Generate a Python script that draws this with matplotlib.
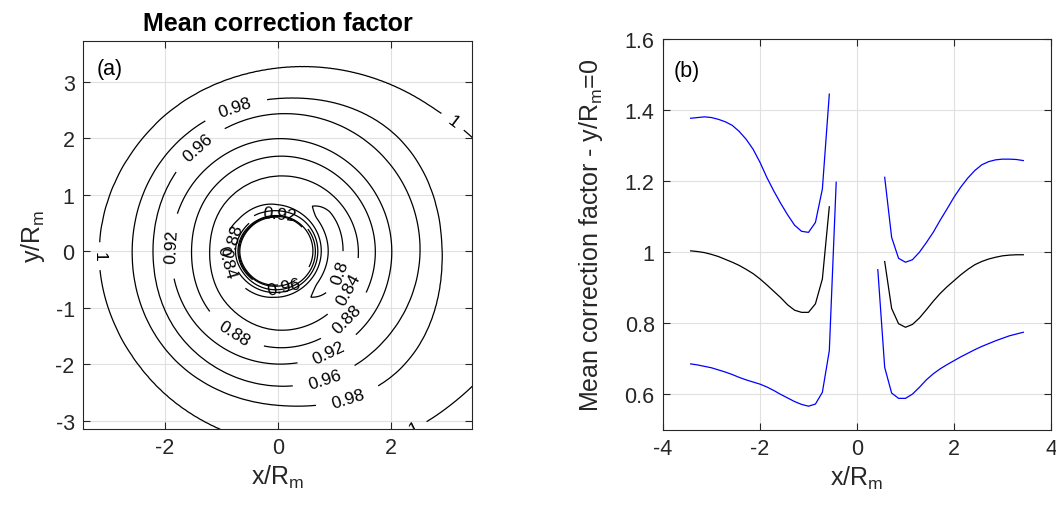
import numpy as np
import matplotlib
matplotlib.use("Agg")
import matplotlib.pyplot as plt

plt.rcParams['font.family'] = ['Liberation Sans', 'DejaVu Sans']
plt.rcParams['mathtext.fontset'] = 'custom'
plt.rcParams['mathtext.rm'] = 'Liberation Sans'
plt.rcParams['mathtext.it'] = 'Liberation Sans:italic'
plt.rcParams['axes.unicode_minus'] = False

# ---------------- panel (a) data: field ----------------
angles_deg = [0, 45, 90, 135, 180, 225, 270, 315]
# inner radial knots (near the hole) and the field values there, per angle
r_inner = [0.60, 0.66, 0.73, 0.82, 0.90, 1.00, 1.15]
v_inner = [
    [0.975, 0.920, 0.855, 0.815, 0.797, 0.789, 0.800],   # 0 deg
    [0.980, 0.915, 0.860, 0.818, 0.801, 0.796, 0.802],   # 45
    [1.000, 0.915, 0.870, 0.840, 0.828, 0.825, 0.830],   # 90
    [1.060, 0.970, 0.900, 0.855, 0.838, 0.830, 0.832],   # 135
    [1.120, 1.020, 0.935, 0.875, 0.848, 0.833, 0.834],   # 180
    [1.060, 0.980, 0.905, 0.855, 0.835, 0.826, 0.828],   # 225
    [1.000, 0.940, 0.880, 0.838, 0.823, 0.818, 0.822],   # 270
    [0.975, 0.925, 0.860, 0.815, 0.801, 0.796, 0.802],   # 315
]
# radius at which the field reaches each outer level, per angle
outer_levels = [0.84, 0.88, 0.92, 0.96, 0.98, 1.00]
r_outer = [
    [1.42, 1.72, 2.01, 2.51, 2.90, 4.50],
    [1.38, 1.70, 2.00, 2.50, 2.92, 3.70],
    [1.33, 1.68, 1.99, 2.43, 2.70, 3.24],
    [1.27, 1.60, 1.93, 2.30, 2.62, 3.12],
    [1.21, 1.53, 1.89, 2.21, 2.58, 3.16],
    [1.30, 1.62, 1.95, 2.30, 2.65, 3.20],
    [1.40, 1.71, 2.00, 2.39, 2.73, 3.45],
    [1.42, 1.72, 2.02, 2.45, 3.00, 4.05],
]
far_r, far_v = 6.0, 1.02
contour_levels = [0.8, 0.84, 0.88, 0.92, 0.96, 0.98, 1.0]

# ---------------- panel (b) data: profiles along y/Rm = 0 ----------------
x_left = [-3.429, -3.286, -3.143, -3.000, -2.857, -2.714, -2.571, -2.429, -2.286, -2.143,
          -2.000, -1.857, -1.714, -1.571, -1.429, -1.286, -1.143, -1.000, -0.857, -0.714, -0.571]
mean_left = [1.004, 1.002, 0.999, 0.994, 0.988, 0.980, 0.972, 0.963, 0.952, 0.940,
             0.925, 0.908, 0.890, 0.872, 0.852, 0.837, 0.831, 0.831, 0.855, 0.925, 1.128]
upper_left = [1.377, 1.379, 1.381, 1.379, 1.374, 1.367, 1.357, 1.340, 1.318, 1.290,
              1.253, 1.210, 1.172, 1.137, 1.105, 1.076, 1.059, 1.056, 1.084, 1.178, 1.445]
x_left_low = [-3.429, -3.286, -3.143, -3.000, -2.857, -2.714, -2.571, -2.429, -2.286, -2.143,
              -2.000, -1.857, -1.714, -1.571, -1.429, -1.286, -1.143, -1.000, -0.857, -0.714,
              -0.571, -0.429]
lower_left = [0.686, 0.683, 0.679, 0.675, 0.669, 0.663, 0.656, 0.648, 0.641, 0.635,
              0.629, 0.621, 0.611, 0.600, 0.590, 0.580, 0.572, 0.567, 0.573, 0.606,
              0.723, 1.197]

x_right = [0.571, 0.714, 0.857, 1.000, 1.143, 1.286, 1.429, 1.571, 1.714, 1.857, 2.000,
           2.143, 2.286, 2.429, 2.571, 2.714, 2.857, 3.000, 3.143, 3.286, 3.429]
mean_right = [0.974, 0.842, 0.799, 0.789, 0.797, 0.815, 0.838, 0.862, 0.884, 0.903, 0.920,
              0.937, 0.952, 0.965, 0.974, 0.981, 0.986, 0.990, 0.992, 0.993, 0.993]
upper_right = [1.211, 1.042, 0.983, 0.972, 0.979, 1.000, 1.027, 1.056, 1.090, 1.122, 1.155,
               1.184, 1.209, 1.230, 1.246, 1.255, 1.260, 1.262, 1.262, 1.261, 1.258]
x_right_low = [0.429, 0.571, 0.714, 0.857, 1.000, 1.143, 1.286, 1.429, 1.571, 1.714, 1.857,
               2.000, 2.143, 2.286, 2.429, 2.571, 2.714, 2.857, 3.000, 3.143, 3.286, 3.429]
lower_right = [0.951, 0.676, 0.604, 0.589, 0.589, 0.601, 0.620, 0.641, 0.658, 0.672, 0.684,
               0.695, 0.706, 0.716, 0.726, 0.735, 0.743, 0.751, 0.758, 0.765, 0.770, 0.775]


def periodic_interp(table, ang_fine):
    """Periodic Catmull-Rom interpolation of per-angle rows onto a fine angle grid."""
    T = np.asarray(table, dtype=float)
    n = T.shape[0]
    step = 360.0 / n
    s = ang_fine / step
    i = np.floor(s).astype(int) % n
    u = (s - np.floor(s))[:, None]
    p0, p1, p2, p3 = T[(i - 1) % n], T[i], T[(i + 1) % n], T[(i + 2) % n]
    return 0.5 * (2 * p1 + (-p0 + p2) * u + (2 * p0 - 5 * p1 + 4 * p2 - p3) * u ** 2
                  + (-p0 + 3 * p1 - 3 * p2 + p3) * u ** 3)


ang_fine = np.linspace(0, 360, 721)
vin_f = periodic_interp(v_inner, ang_fine % 360)
rout_f = periodic_interp(r_outer, ang_fine % 360)
r_fine = np.linspace(r_inner[0], 5.4, 500)
Z = np.empty((len(ang_fine), len(r_fine)))
for k in range(len(ang_fine)):
    rk = np.concatenate([r_inner, rout_f[k], [far_r]])
    vk = np.concatenate([vin_f[k], outer_levels, [far_v]])
    Z[k] = np.interp(r_fine, rk, vk)
TH, RR = np.meshgrid(np.deg2rad(ang_fine), r_fine, indexing='ij')
X = RR * np.cos(TH)
Y = RR * np.sin(TH)

# ---------------- figure ----------------
W, H = 1056, 510
fig = plt.figure(figsize=(W / 100, H / 100), dpi=100)
ax1 = fig.add_axes([83 / W, (H - 430) / H, 389 / W, 388 / H])
ax2 = fig.add_axes([663 / W, (H - 431) / H, 388 / W, 391 / H])

axcol = '#262626'
gridcol = '#e0e0e0'
tick_fs = 15.5
label_fs = 18


def style(ax):
    ax.grid(True, color=gridcol, linewidth=0.8)
    ax.set_axisbelow(True)
    for sp in ax.spines.values():
        sp.set_color(axcol)
        sp.set_linewidth(0.8)
    ax.tick_params(direction='in', length=5, width=0.8, top=True, right=True,
                   colors=axcol, labelsize=tick_fs, pad=6)


cs = ax1.contour(X, Y, Z, levels=contour_levels, colors='k', linewidths=0.9)
label_pos = [(-0.76, 2.55), (1.19, -2.48), (-1.44, 1.86), (0.8, -2.18),
             (-1.86, 0.09), (0.89, -1.79), (-0.79, -1.47), (1.22, -1.2),
             (1.24, -0.67), (1.04, -0.35), (-3.15, -0.09), (3.02, 2.2),
             (2.37, -3.06), (0.03, 0.675), (0.1, -0.62), (-0.82, 0.2), (-0.92, -0.2)]
ax1.clabel(cs, fmt='%g', fontsize=12.5, manual=label_pos, inline_spacing=4)
ax1.set_xlim(-3.45, 3.43)
ax1.set_ylim(-3.15, 3.72)
ax1.set_xticks([-2, 0, 2])
ax1.set_yticks([-3, -2, -1, 0, 1, 2, 3])
style(ax1)
ax1.set_xlabel(r'x/R$_{\mathrm{m}}$', fontsize=label_fs, color=axcol, labelpad=3)
ax1.set_ylabel(r'y/R$_{\mathrm{m}}$', fontsize=label_fs, color=axcol, labelpad=6)
ax1.set_title('Mean correction factor', fontsize=18, fontweight='bold', pad=8)
ax1.text(0.036, 0.928, '(a)', transform=ax1.transAxes, fontsize=tick_fs, va='center', ha='left')

ax2.plot(x_left, upper_left, color='b', lw=0.9)
ax2.plot(x_left, mean_left, color='k', lw=0.9)
ax2.plot(x_left_low, lower_left, color='b', lw=0.9)
ax2.plot(x_right, upper_right, color='b', lw=0.9)
ax2.plot(x_right, mean_right, color='k', lw=0.9)
ax2.plot(x_right_low, lower_right, color='b', lw=0.9)
ax2.set_xlim(-4, 4)
ax2.set_ylim(0.5, 1.6)
ax2.set_xticks([-4, -2, 0, 2, 4])
ax2.set_yticks([0.6, 0.8, 1.0, 1.2, 1.4, 1.6])
ax2.set_yticklabels(['0.6', '0.8', '1', '1.2', '1.4', '1.6'])
style(ax2)
ax2.set_xlabel(r'x/R$_{\mathrm{m}}$', fontsize=label_fs, color=axcol, labelpad=3)
ax2.set_ylabel(r'Mean correction factor - y/R$_{\mathrm{m}}$=0', fontsize=label_fs,
               color=axcol, labelpad=14)
ax2.text(0.028, 0.919, '(b)', transform=ax2.transAxes, fontsize=tick_fs, va='center', ha='left')

fig.savefig('out.png', dpi=100)
